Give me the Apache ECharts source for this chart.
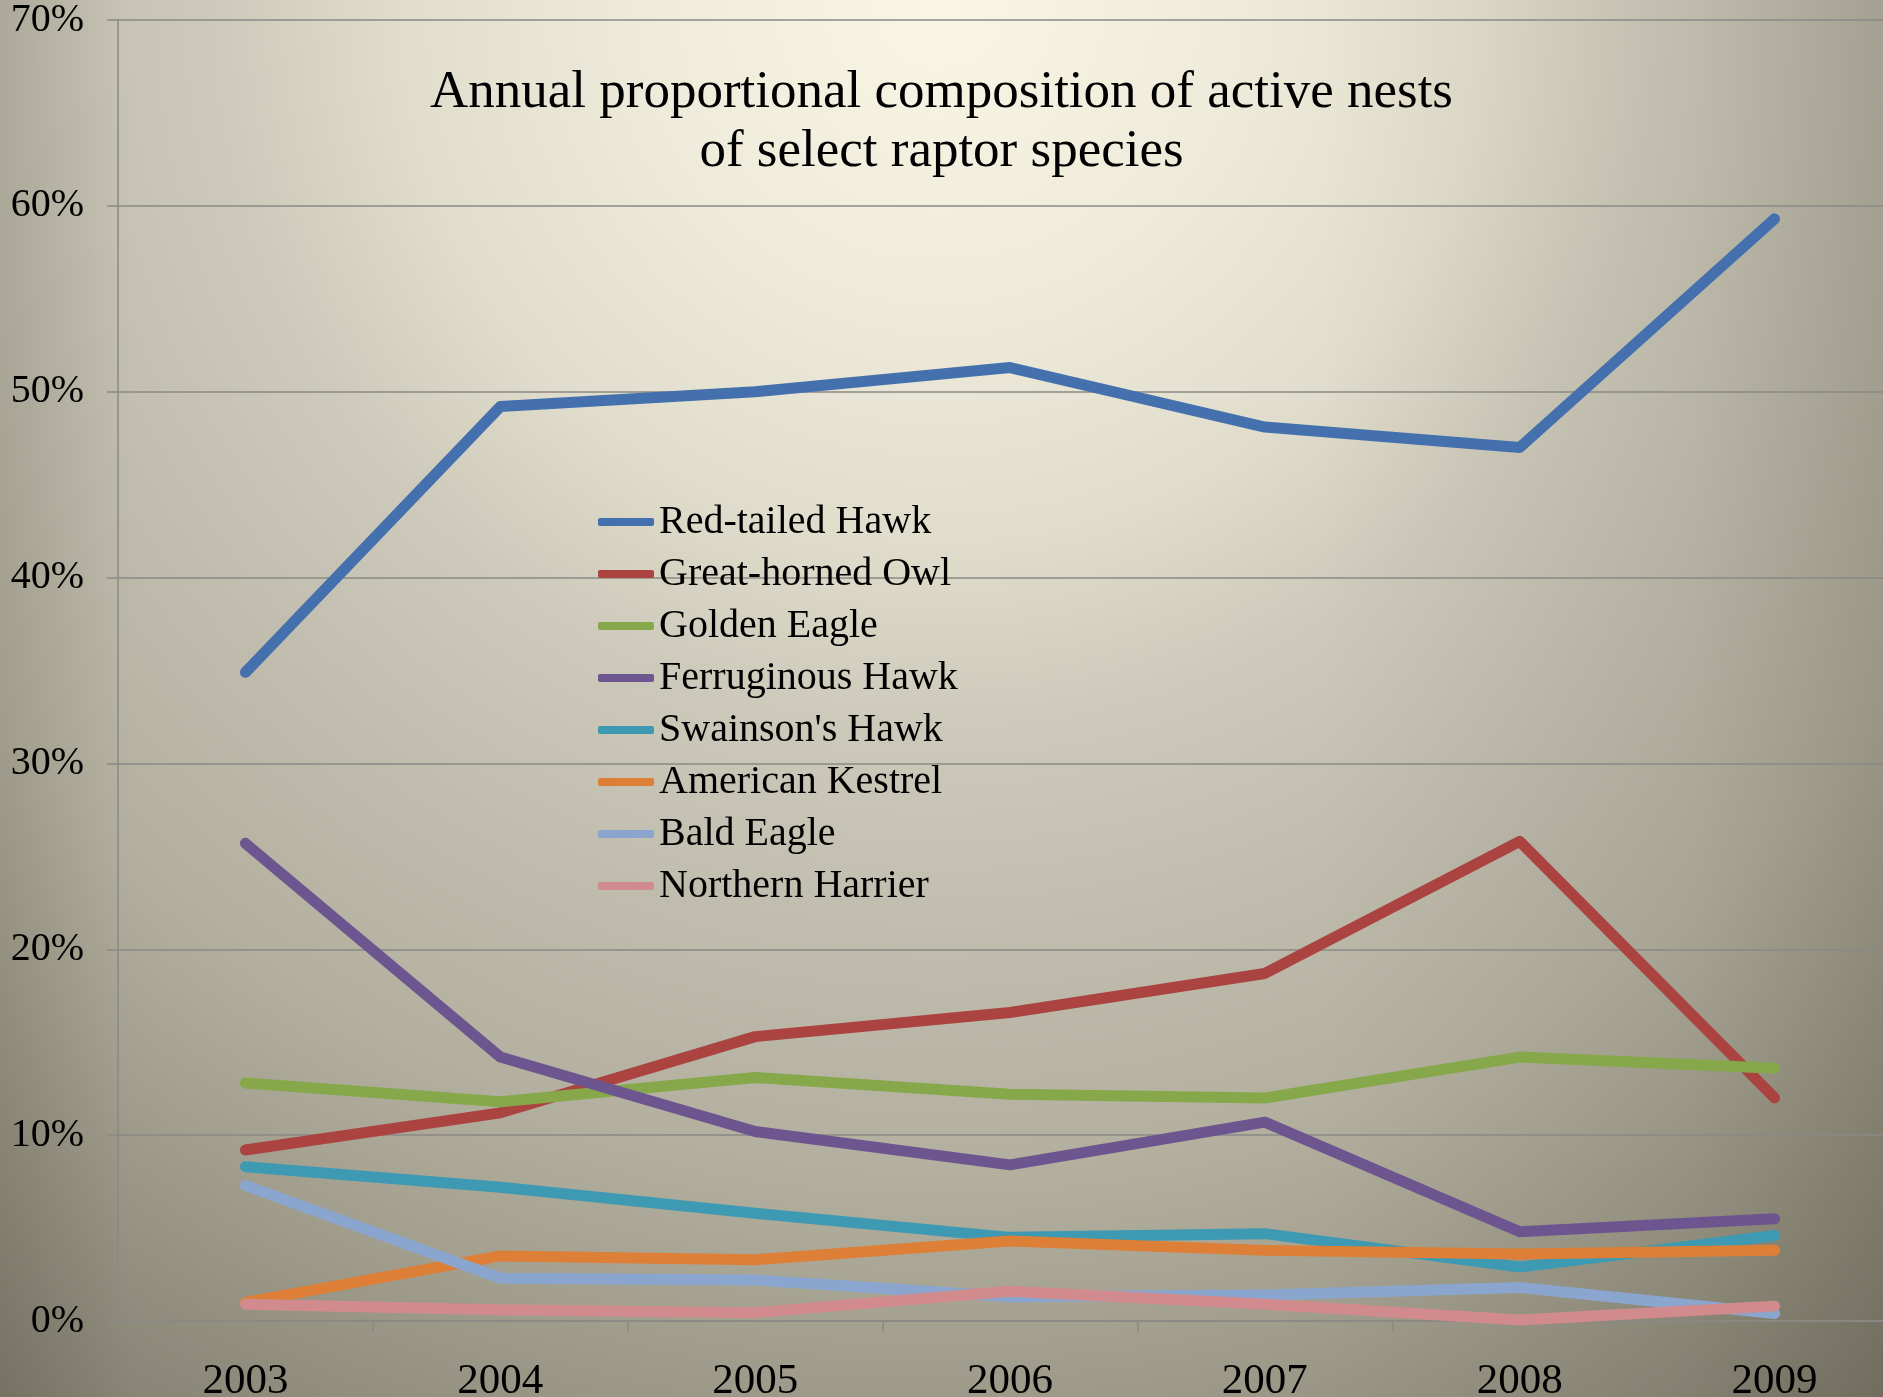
<!DOCTYPE html>
<html>
<head>
<meta charset="utf-8">
<script src="https://cdn.jsdelivr.net/npm/echarts@6/dist/echarts.min.js"></script>
<style>
  html, body { margin: 0; padding: 0; }
  #chart {
    width: 1883px; height: 1397px;
    background:
      linear-gradient(to right, rgba(40,36,20,0.13) 0%, rgba(40,36,20,0) 7%, rgba(40,36,20,0) 70%, rgba(40,36,20,0.08) 90%, rgba(40,36,20,0.18) 100%),
      radial-gradient(circle at 940px 0px, #f9f6e6 0px, #eeebdb 300px, #e0ddcc 540px, #cdcabb 720px, #c0bdae 930px, #b2af9f 1180px, #a4a191 1330px, #807c6d 1700px, #7c786a 1900px);
  }
</style>
</head>
<body>
<div id="chart"></div>
<script>
const years = ['2003', '2004', '2005', '2006', '2007', '2008', '2009'];
const yTicks = [0, 10, 20, 30, 40, 50, 60, 70];
const titleText = 'Annual proportional composition of active nests\nof select raptor species';

const redTailedHawk    = [34.9, 49.2, 50.0, 51.3, 48.1, 47.0, 59.3];
const greatHornedOwl   = [9.2, 11.2, 15.3, 16.6, 18.7, 25.8, 12.0];
const goldenEagle      = [12.8, 11.8, 13.1, 12.2, 12.0, 14.2, 13.6];
const ferruginousHawk  = [25.7, 14.2, 10.2, 8.4, 10.7, 4.8, 5.5];
const swainsonsHawk    = [8.3, 7.2, 5.8, 4.5, 4.7, 2.9, 4.6];
const americanKestrel  = [1.0, 3.5, 3.3, 4.3, 3.8, 3.6, 3.8];
const baldEagle        = [7.3, 2.3, 2.2, 1.3, 1.4, 1.8, 0.4];
const northernHarrier  = [0.9, 0.6, 0.45, 1.6, 0.9, 0.05, 0.8];

const seriesNames = ['Red-tailed Hawk', 'Great-horned Owl', 'Golden Eagle', 'Ferruginous Hawk',
                     "Swainson's Hawk", 'American Kestrel', 'Bald Eagle', 'Northern Harrier'];
const seriesData = [redTailedHawk, greatHornedOwl, goldenEagle, ferruginousHawk,
                    swainsonsHawk, americanKestrel, baldEagle, northernHarrier];
const colors = ['#4471ad', '#ab4340', '#86a84a', '#6d5690', '#3e99b2', '#dd7f36', '#8aa6ce', '#d18b8d'];

const FONT = 'Liberation Serif';
const chart = echarts.init(document.getElementById('chart'), null, { renderer: 'canvas' });

chart.setOption({
  animation: false,
  backgroundColor: 'transparent',
  color: colors,
  title: {
    text: titleText,
    left: 'center',
    top: 64,
    padding: 0,
    textStyle: { fontFamily: FONT, fontSize: 53, lineHeight: 59, fontWeight: 'normal', color: '#000' }
  },
  legend: {
    data: seriesNames,
    orient: 'vertical',
    left: 598,
    top: 500,
    padding: 0,
    itemGap: 8,
    itemWidth: 56,
    itemHeight: 8,
    icon: 'roundRect',
    selectedMode: false,
    textStyle: { fontFamily: FONT, fontSize: 40, lineHeight: 44, color: '#000' }
  },
  grid: { left: 118, right: -19, top: 20, bottom: 76, containLabel: false, outerBoundsMode: 'none' },
  xAxis: {
    type: 'category',
    data: years,
    boundaryGap: true,
    axisLine: { show: true, lineStyle: { color: '#8a8984', width: 1.5 } },
    axisTick: { show: true, length: 11, lineStyle: { color: '#8a8984', width: 1.5 } },
    axisLabel: { margin: 39, fontFamily: FONT, fontSize: 43, color: '#000' },
    splitLine: { show: false }
  },
  yAxis: {
    type: 'value',
    min: yTicks[0],
    max: yTicks[yTicks.length - 1],
    interval: 10,
    axisLine: { show: true, lineStyle: { color: '#8a8984', width: 1.5 } },
    axisTick: { show: true, length: 11, lineStyle: { color: '#8a8984', width: 1.5 } },
    axisLabel: { margin: 34, fontFamily: FONT, fontSize: 40, color: '#000', formatter: '{value}%' },
    splitLine: { show: true, lineStyle: { color: '#8a8984', width: 1.5 } }
  },
  series: seriesNames.map((name, i) => ({
    name: name,
    type: 'line',
    data: seriesData[i],
    symbol: 'none',
    itemStyle: { color: colors[i] },
    lineStyle: { color: colors[i], width: 11, cap: 'round', join: 'round' }
  }))
});
</script>
</body>
</html>
